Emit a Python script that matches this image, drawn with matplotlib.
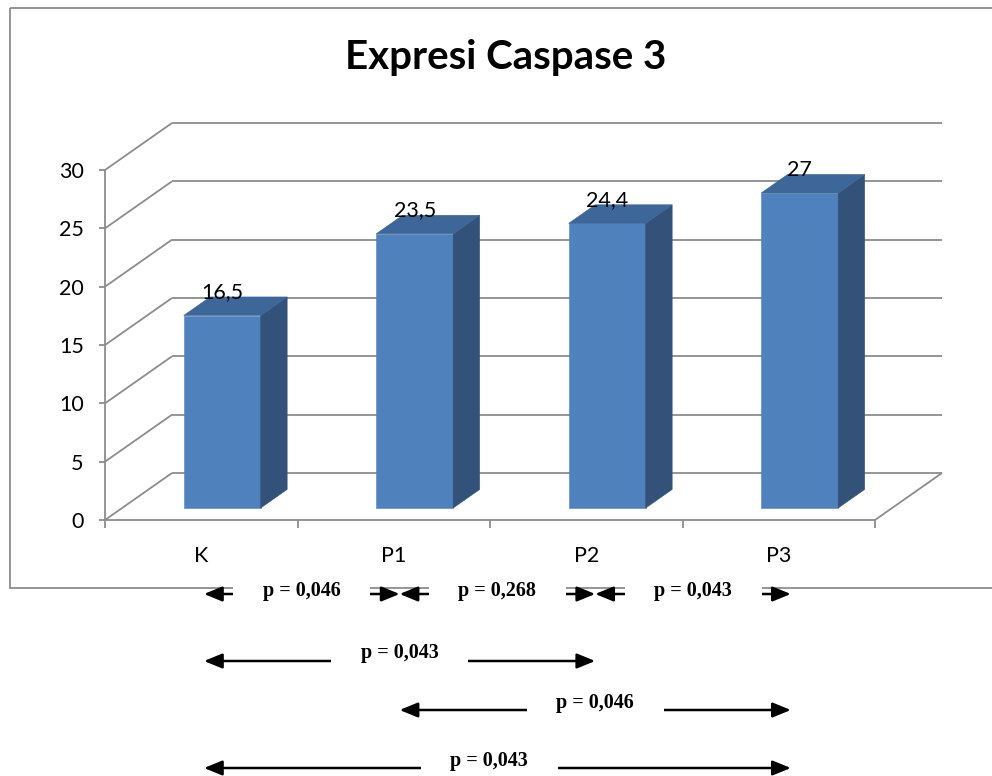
import matplotlib
matplotlib.use("Agg")
import matplotlib.pyplot as plt
from matplotlib.patches import Polygon, Rectangle, FancyArrowPatch

# ---- data -------------------------------------------------------------
categories = ["K", "P1", "P2", "P3"]
values = [16.5, 23.5, 24.4, 27]
y_ticks = [0, 5, 10, 15, 20, 25, 30]

# pairwise comparisons: (group a, group b, p-value text, row)
comparisons = [
    (0, 1, "p = 0,046", 0),
    (1, 2, "p = 0,268", 0),
    (2, 3, "p = 0,043", 0),
    (0, 2, "p = 0,043", 1),
    (1, 3, "p = 0,046", 2),
    (0, 3, "p = 0,043", 3),
]

# ---- style ------------------------------------------------------------
W, H = 992, 776
GRID = "#8c8c8c"
FRONT = "#4f81bd"
SIDE = "#325279"
TOP = "#3d6699"
SANS = ["Lato", "DejaVu Sans"]
SERIF = ["Liberation Serif", "DejaVu Serif"]
DEPTH_PX = (67.0, 47.0)        # 3-D depth of the plot box, pixels (right, up)
BAR_DEPTH = (0.255, 0.65)      # bar front / back as fraction of depth
BAR_SPAN = (0.32, 0.72)        # bar extent inside each category slot

plt.rcParams["font.family"] = SANS

fig = plt.figure(figsize=(W / 100, H / 100), dpi=100)
fig.patch.set_facecolor("white")

# front plane of the 3-D box
ax = fig.add_axes([105 / W, (H - 520) / H, 770 / W, 350 / H])
n = len(categories)
ymax = max(y_ticks)
ax.set_xlim(0, n)
ax.set_ylim(0, ymax)
ax.patch.set_visible(False)

# depth vector converted to data units
dxd = DEPTH_PX[0] / (ax.bbox.width / n)
dyd = DEPTH_PX[1] / (ax.bbox.height / ymax)


def proj(x, y, d):
    return (x + d * dxd, y + d * dyd)


line_kw = dict(color=GRID, lw=1.3, clip_on=False, zorder=1, solid_capstyle="butt")

# back wall gridlines and left wall diagonals
for t in y_ticks:
    (bx0, by0), (bx1, by1) = proj(0, t, 1), proj(n, t, 1)
    ax.plot([bx0, bx1], [by0, by1], **line_kw)
    ax.plot([0, bx0], [t, by0], **line_kw)
# right edge of the floor
fx, fy = proj(n, 0, 1)
ax.plot([n, fx], [0, fy], **line_kw)

# bars
f1, f2 = BAR_DEPTH
for i, v in enumerate(values):
    x0, x1 = i + BAR_SPAN[0], i + BAR_SPAN[1]
    faces = [
        ([proj(x0, 0, f1), proj(x1, 0, f1), proj(x1, v, f1), proj(x0, v, f1)], FRONT),
        ([proj(x1, 0, f1), proj(x1, 0, f2), proj(x1, v, f2), proj(x1, v, f1)], SIDE),
        ([proj(x0, v, f1), proj(x1, v, f1), proj(x1, v, f2), proj(x0, v, f2)], TOP),
    ]
    for pts, col in faces:
        ax.add_patch(Polygon(pts, closed=True, fc=col, ec=col, lw=0.4,
                             clip_on=False, zorder=3))
    lx = proj((x0 + x1) / 2, v, f1)[0]
    ly = proj(0, v, f2)[1]
    ax.text(lx, ly - 0.1, f"{v:g}".replace(".", ","), ha="center", va="baseline",
            fontsize=15.5, zorder=5)

# axes frame: left axis and front floor edge
for side in ("top", "right"):
    ax.spines[side].set_visible(False)
for side in ("left", "bottom"):
    ax.spines[side].set_color(GRID)
    ax.spines[side].set_linewidth(1.3)

ax.set_yticks(y_ticks)
ax.set_yticklabels([str(t) for t in y_ticks])
ax.tick_params(axis="y", direction="out", length=4.3, width=1.3, color=GRID,
               pad=11, labelsize=15.5)
ax.set_xticks(range(n + 1))
ax.set_xticklabels([])
ax.tick_params(axis="x", which="major", direction="out", length=5.8, width=1.3,
               color=GRID)
ax.set_xticks([i + 0.5 for i in range(n)], labels=categories, minor=True)
ax.tick_params(axis="x", which="minor", length=0, pad=19, labelsize=15.5)

fig.text(506 / W, 1 - 57 / H, "Expresi Caspase 3", ha="center", va="center",
         fontsize=29, fontweight="bold", family=SANS)

# ---- overlay in pixel units: chart border and comparison arrows -------
ov = fig.add_axes([0, 0, 1, 1], zorder=10)
ov.set_xlim(0, W)
ov.set_ylim(H, 0)
ov.axis("off")
ov.patch.set_visible(False)

ov.add_patch(Rectangle((10, 8), W + 40, 580, fill=False, ec=GRID, lw=1.3,
                       zorder=1, clip_on=False))

ARROW_X0, ARROW_STEP = 204.0, 195.6
ROW_ARROW_Y = [594, 661, 710, 768]
ROW_TEXT_Y = [591, 653, 703, 761]
LABEL_SHIFT = {5: -8}          # nudge of a label box along its arrow, pixels
BOX_W = 137

for k, (a, b, label, row) in enumerate(comparisons):
    xa = ARROW_X0 + a * ARROW_STEP
    xb = ARROW_X0 + b * ARROW_STEP
    xc = (xa + xb) / 2 + LABEL_SHIFT.get(k, 0)
    ay, ty = ROW_ARROW_Y[row], ROW_TEXT_Y[row]
    ov.add_patch(FancyArrowPatch((xa, ay), (xb, ay),
                                 arrowstyle="<|-|>,head_length=1.1,head_width=0.45",
                                 mutation_scale=10, lw=1.8, color="black",
                                 shrinkA=0, shrinkB=0, zorder=2))
    top = min(ay, ty) - 12
    ov.add_patch(Rectangle((xc - BOX_W / 2, top), BOX_W, abs(ay - ty) + 24,
                           fc="white", ec="none", zorder=3))
    ov.text(xc, ty, label, ha="center", va="center", family=SERIF,
            fontweight="bold", fontsize=14.5, zorder=4)

fig.savefig("out.png", dpi=100)
